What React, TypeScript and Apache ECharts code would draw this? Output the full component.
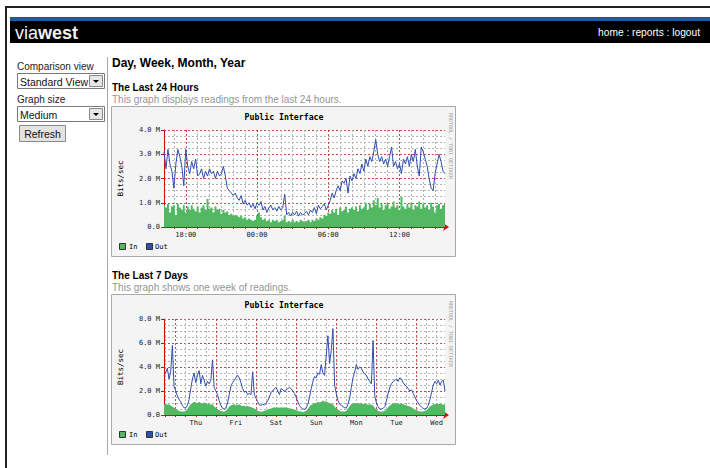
import React, { useEffect, useRef } from 'react';
import * as echarts from 'echarts';

// ---------- data ----------
// Last 24 hours, 10-minute samples from 16:10 to 15:50 (Mbit/s)
const dayOut = [
  3.1, 2.4, 3.2, 2.6, 2.3, 1.6, 2.6, 3.2, 2.9, 2.5, 1.7, 3.2,
  2.5, 2.2, 2.7, 2.4, 2.8, 2.1, 2.2, 2.4, 2.0, 2.3, 2.1, 2.4,
  2.2, 2.3, 2.0, 2.3, 2.1, 2.2, 2.5, 2.1, 1.6, 1.5, 1.4, 1.3,
  1.4, 1.2, 1.1, 1.3, 0.95, 1.1, 0.9, 1.0, 0.8, 0.95, 0.75, 1.0,
  0.9, 1.05, 0.7, 0.85, 0.6, 0.8, 0.9, 0.7, 0.8, 0.65, 0.85, 0.7,
  0.8, 1.35, 0.5, 0.6, 0.45, 0.6, 0.5, 0.65, 0.45, 0.6, 0.5, 0.55,
  0.65, 0.5, 0.7, 0.6, 0.8, 0.55, 0.9, 0.75, 0.85, 0.95, 0.7, 0.9,
  1.1, 1.4, 1.2, 1.5, 1.7, 1.5, 1.9, 1.8, 2.0, 1.4, 2.1, 1.9,
  2.2, 2.0, 2.4, 2.2, 2.6, 2.3, 2.8, 2.5, 2.9, 2.7, 3.1, 3.6,
  3.0, 2.7, 2.9, 2.6, 2.8, 2.5, 2.9, 3.3, 2.5, 2.7, 2.4, 2.6,
  2.2, 2.8, 2.6, 2.9, 2.5, 3.0, 2.7, 3.2, 2.5, 2.1, 3.3, 3.1,
  2.8, 2.5, 2.0, 1.6, 1.5, 2.2, 2.6, 3.0, 2.7, 2.3, 2.2,
];
const dayIn = [
  0.9, 0.8, 0.95, 0.6, 0.85, 0.9, 0.5, 0.95, 0.8, 0.7, 0.9, 0.6,
  0.85, 0.7, 0.9, 0.75, 0.65, 0.85, 0.6, 0.8, 0.9, 0.7, 1.15, 0.75,
  0.8, 0.6, 0.85, 0.7, 0.75, 0.55, 0.7, 0.6, 0.65, 0.5, 0.55, 0.45,
  0.5, 0.45, 0.4, 0.45, 0.35, 0.4, 0.3, 0.35, 0.3, 0.25, 0.3, 0.45,
  0.6, 0.4, 0.3, 0.35, 0.25, 0.3, 0.2, 0.3, 0.25, 0.3, 0.2, 0.25,
  0.3, 0.45, 0.2, 0.25, 0.2, 0.3, 0.2, 0.25, 0.2, 0.3, 0.25, 0.2,
  0.25, 0.3, 0.2, 0.3, 0.25, 0.35, 0.3, 0.4, 0.35, 0.5, 0.45, 0.6,
  0.55, 0.7, 0.6, 0.75, 0.5, 0.8, 0.65, 0.7, 0.85, 0.6, 0.75, 0.8,
  0.7, 0.85, 0.65, 0.9, 0.75, 0.8, 1.0, 0.7, 0.95, 0.8, 1.1, 0.9,
  1.2, 0.8, 0.95, 0.7, 0.9, 1.0, 0.75, 0.85, 1.05, 0.8, 0.9, 0.7,
  1.25, 0.85, 0.75, 0.95, 0.8, 1.0, 0.7, 0.9, 0.85, 1.05, 0.75, 0.95,
  0.8, 0.9, 0.7, 1.0, 0.85, 0.6, 0.9, 0.95, 0.75, 0.9, 0.95,
];

// Last 7 days, hourly samples from Wed 17:00 to Wed 17:00 (Mbit/s)
const weekOut = [
  3.3, 3.5, 3.9, 3.0, 3.6, 5.8, 2.4, 2.0, 1.6, 1.3,
  1.1, 0.8, 0.6, 0.6, 0.8, 1.3, 2.2, 3.0, 3.5, 2.7,
  3.3, 3.7, 2.6, 3.3, 2.9, 2.4, 2.8, 2.6, 2.9, 4.6,
  2.3, 2.0, 1.7, 1.2, 0.8, 0.55, 0.5, 0.6, 1.0, 1.7,
  2.4, 2.7, 2.9, 3.1, 3.3, 3.1, 2.7, 2.2, 1.9, 2.0,
  1.7, 1.8, 1.7, 3.6, 1.7, 1.4, 1.1, 0.85, 0.8, 0.9,
  0.85, 0.95, 1.2, 1.5, 1.9, 2.0, 2.2, 2.3, 2.0, 1.7,
  2.2, 2.1, 2.0, 2.1, 2.2, 2.3, 2.2, 2.0, 1.8, 1.5,
  1.1, 0.8, 0.6, 0.5, 0.5, 0.6, 0.9, 1.5, 2.2, 2.8,
  3.2, 3.1, 3.5, 3.4, 4.2, 3.5, 3.3, 5.0, 6.6, 4.3,
  5.4, 7.2, 2.5, 1.8, 1.2, 0.9, 0.8, 0.7, 0.6, 0.6,
  0.9, 1.4, 2.3, 3.1, 3.6, 4.2, 3.8, 4.0, 3.9, 3.6,
  3.4, 3.3, 3.0, 2.8, 2.6, 6.2, 1.6, 1.0, 0.7, 0.5,
  0.5, 0.55, 0.7, 1.2, 1.8, 2.3, 2.6, 2.8, 2.9, 3.0,
  2.8, 3.1, 3.0, 2.7, 2.5, 2.4, 2.2, 2.0, 2.1, 1.8,
  1.5, 1.2, 1.0, 0.8, 0.65, 0.55, 0.5, 0.55, 0.8, 1.3,
  1.9, 2.5, 2.8, 2.6, 2.9, 2.5, 2.8, 2.9, 2.0,
];
const weekIn = [
  0.9, 0.95, 0.85, 0.9, 0.8, 0.7, 0.6,
  0.5, 0.4, 0.35, 0.3, 0.3, 0.3, 0.35, 0.5,
  0.7, 0.9, 1.0, 1.1, 1.05, 1.0, 1.1, 1.0, 0.95, 1.05, 1.0, 0.9, 1.0, 0.85, 0.9, 0.7,
  0.6, 0.5, 0.4, 0.35, 0.3, 0.3, 0.35, 0.5,
  0.7, 0.8, 0.85, 0.9, 0.8, 0.85, 0.9, 0.8, 0.75, 0.8, 0.7, 0.75, 0.7, 0.65, 0.6, 0.55,
  0.45, 0.35, 0.3, 0.3, 0.3, 0.35, 0.4, 0.45,
  0.5, 0.55, 0.6, 0.65, 0.6, 0.65, 0.6, 0.65, 0.6, 0.65, 0.6, 0.6, 0.55, 0.55, 0.5, 0.45,
  0.4, 0.35, 0.3, 0.3, 0.25, 0.3, 0.35, 0.5,
  0.7, 0.85, 0.9, 1.0, 1.0, 1.1, 1.05, 1.1, 1.2, 1.1, 1.15, 1.05, 1.0, 0.95, 0.9, 0.7,
  0.55, 0.45, 0.35, 0.3, 0.3, 0.3, 0.35, 0.55,
  0.75, 0.9, 0.95, 1.0, 0.95, 1.0, 0.95, 1.0, 0.9, 0.95, 0.9, 0.85, 0.9, 0.85, 0.8, 0.6,
  0.45, 0.35, 0.3, 0.3, 0.3, 0.35, 0.45, 0.65,
  0.8, 0.9, 0.95, 1.0, 0.95, 1.0, 0.9, 0.95, 0.9, 0.85, 0.8, 0.75, 0.7, 0.65, 0.55, 0.45,
  0.4, 0.35, 0.3, 0.3, 0.3, 0.35, 0.4, 0.55,
  0.7, 0.8, 0.9, 0.9, 0.95, 0.9, 0.95, 0.9, 0.85, 0.9,
];

const dayTickLabels = ['18:00', '00:00', '06:00', '12:00'];
const weekTickLabels = ['Thu', 'Fri', 'Sat', 'Sun', 'Mon', 'Tue', 'Wed'];
const dayYLabels = ['0.0', '1.0 M', '2.0 M', '3.0 M', '4.0 M'];
const weekYLabels = ['0.0', '2.0 M', '4.0 M', '6.0 M', '8.0 M'];
const weekDayNames = ['Wed', 'Thu', 'Fri', 'Sat', 'Sun', 'Mon', 'Tue', 'Wed'];

const pad = (n: number) => (n < 10 ? '0' + n : '' + n);

// category (time) labels
const dayCats: string[] = [];
for (let i = 0; i < dayOut.length; i++) {
  const t = (16 * 60 + 10 + i * 10) % 1440;
  dayCats.push(pad(Math.floor(t / 60)) + ':' + pad(t % 60));
}
const weekCats: string[] = [];
for (let i = 0; i < weekOut.length; i++) {
  const h = 17 + i;
  weekCats.push(weekDayNames[Math.floor(h / 24)] + ' ' + pad(h % 24) + ':00');
}

// ---------- styles ----------
const SANS = '"Liberation Sans", Arial, sans-serif';
const MONO = '"DejaVu Sans Mono", monospace';
const GREEN = '#52b862';
const BLUE = '#2f4fae';
const AXIS_RED = '#cc1111';
const MAJOR = 'rgba(195,30,30,0.8)';
const MINOR = '#b4b4b4';

const dayHour = (v: string) => parseInt(v.slice(0, 2), 10);
const dayIsHour = (v: string) => v.endsWith(':00');
const weekHour = (v: string) => parseInt(v.slice(4, 6), 10);

function txt(x: number, y: number, text: string, o: any = {}) {
  return {
    type: 'text',
    x,
    y,
    rotation: o.rotation || 0,
    z: 10,
    style: {
      text,
      fill: o.fill || '#000',
      fontSize: o.fontSize || 10,
      fontFamily: o.fontFamily || SANS,
      fontWeight: o.fontWeight || 'normal',
      textAlign: o.align || 'left',
      textVerticalAlign: 'middle',
      rich: o.rich,
    },
  };
}
function rect(x: number, y: number, w: number, h: number, fill: string, stroke?: string, z = -1) {
  return {
    type: 'rect',
    z,
    shape: { x, y, width: w, height: h },
    style: { fill, stroke: stroke || null, lineWidth: stroke ? 1 : 0 },
  };
}

function panel(top: number, plotTop: number, plotH: number, heading: string, sub: string) {
  const els: any[] = [];
  els.push(txt(112, top - 19, heading, { fontWeight: 'bold', fontSize: 10 }));
  els.push(txt(112, top - 6.5, sub, { fill: '#959595', fontSize: 10 }));
  els.push(rect(111.5, top + 0.5, 344, 150, '#f4f4f4', '#a9a9a9', -3));
  els.push(rect(164, plotTop, 281, plotH, '#ffffff', undefined, -2));
  els.push(txt(284, top + 11, 'Public Interface', { fontFamily: MONO, fontWeight: 'bold', fontSize: 8.2, align: 'center' }));
  els.push(txt(120, plotTop + plotH / 2, 'Bits/sec', { fontFamily: MONO, fontSize: 7.5, align: 'center', rotation: Math.PI / 2 }));
  els.push(txt(451, top + 40, 'RRDTOOL / TOBI OETIKER', { fontFamily: MONO, fontSize: 5, align: 'center', fill: '#a0a0a0', rotation: -Math.PI / 2 }));
  const ly = top + 140.5;
  els.push(rect(119.5, ly - 3, 6, 6, GREEN, '#333', 5));
  els.push(txt(129, ly, 'In', { fontFamily: MONO, fontSize: 7 }));
  els.push(rect(146.5, ly - 3, 6, 6, BLUE, '#333', 5));
  els.push(txt(155, ly, 'Out', { fontFamily: MONO, fontSize: 7 }));
  return els;
}

function selectBox(y: number, label: string) {
  return [
    rect(17.5, y + 0.5, 87, 15, '#ffffff', '#7a7a7a', 1),
    rect(89.5, y + 2.5, 13, 11, '#e6e6e6', '#8a8a8a', 2),
    {
      type: 'polygon',
      z: 3,
      shape: { points: [[93, y + 7], [99, y + 7], [96, y + 10]] },
      style: { fill: '#000' },
    },
    txt(20, y + 8.5, label, { fontSize: 10.5, fill: '#111' }),
  ];
}

function dayIsHourFn(_i: number, v: string) {
  return dayIsHour(v);
}

function buildOption(): any {
  const graphic: any[] = [
    rect(5, 6, 705, 2, '#222', undefined, 1),
    rect(5, 6, 2, 462, '#222', undefined, 1),
    rect(10, 17, 700, 4, '#1e5aa0', undefined, 1),
    rect(10, 21, 700, 22, '#000000', undefined, 1),
    txt(15, 32.5, '{a|via}{b|west}', {
      fill: '#fff',
      fontSize: 18,
      rich: {
        a: { fontSize: 18, fontFamily: SANS, fill: '#f2f2f2' },
        b: { fontSize: 18, fontFamily: SANS, fontWeight: 'bold', fill: '#f2f2f2' },
      },
    }),
    txt(700, 32.5, 'home : reports : logout', { fill: '#fff', fontSize: 10.2, align: 'right' }),
    txt(17, 66, 'Comparison view', { fontSize: 10, fill: '#222' }),
    ...selectBox(73, 'Standard View'),
    txt(17, 99, 'Graph size', { fontSize: 10, fill: '#222' }),
    ...selectBox(106, 'Medium'),
    rect(19.5, 125.5, 46, 16, '#e3e3e3', '#8a8a8a', 1),
    txt(42.5, 133.5, 'Refresh', { fontSize: 10.5, align: 'center', fill: '#111' }),
    rect(107, 57, 1, 398, '#a8a8a8', undefined, 1),
    txt(112, 63, 'Day, Week, Month, Year', { fontWeight: 'bold', fontSize: 12 }),
    ...panel(106, 130, 97, 'The Last 24 Hours', 'This graph displays readings from the last 24 hours.'),
    ...panel(294, 319, 96, 'The Last 7 Days', 'This graph shows one week of readings.'),
  ];

  const xBase = (gridIndex: number, data: string[]) => ({
    type: 'category',
    gridIndex,
    data,
    boundaryGap: false,
  });
  const axisLineRed = {
    show: true,
    onZero: false,
    symbol: ['none', 'arrow'],
    symbolSize: [6, 6],
    symbolOffset: [0, 4],
    lineStyle: { color: AXIS_RED, width: 1 },
  };
  const labelStyle = { fontFamily: MONO, fontSize: 7, color: '#222' };

  const dayMinor = (_i: number, v: string) => dayIsHour(v) && dayHour(v) % 6 !== 0;
  const dayMajor = (_i: number, v: string) => dayIsHour(v) && dayHour(v) % 6 === 0;
  const weekMinor = (_i: number, v: string) => weekHour(v) % 6 === 0 && weekHour(v) !== 0;
  const weekMajor = (_i: number, v: string) => weekHour(v) === 0;

  const yAxis = (gridIndex: number, max: number, interval: number, labels: string[]) => ({
    type: 'value',
    gridIndex,
    min: 0,
    max,
    interval,
    axisLine: { show: true, lineStyle: { color: AXIS_RED, width: 1 } },
    axisTick: { show: true, length: 3, lineStyle: { color: AXIS_RED } },
    axisLabel: { ...labelStyle, margin: 4, formatter: (v: number) => labels[Math.round(v / interval)] },
    splitLine: { show: true, lineStyle: { color: MAJOR, type: [2, 2], width: 1 } },
    minorTick: { show: false, splitNumber: 4 },
    minorSplitLine: { show: true, lineStyle: { color: MINOR, type: [2, 2], width: 1 } },
  });

  return {
    animation: false,
    backgroundColor: '#ffffff',
    graphic,
    grid: [
      { left: 164, top: 130, width: 281, height: 97, show: false },
      { left: 164, top: 319, width: 281, height: 96, show: false },
    ],
    xAxis: [
      {
        ...xBase(0, dayCats),
        axisLine: axisLineRed,
        axisTick: { show: true, length: 2, interval: dayIsHourFn, lineStyle: { color: AXIS_RED } },
        axisLabel: {
          ...labelStyle,
          margin: 4,
          interval: (_i: number, v: string) => dayTickLabels.includes(v),
        },
        splitLine: { show: true, interval: dayMinor, lineStyle: { color: MINOR, type: [2, 2], width: 1 } },
      },
      {
        ...xBase(0, dayCats),
        axisLine: { show: false },
        axisTick: { show: false },
        axisLabel: { show: false },
        splitLine: { show: true, interval: dayMajor, lineStyle: { color: MAJOR, type: [2, 2], width: 1 } },
      },
      {
        ...xBase(1, weekCats),
        axisLine: axisLineRed,
        axisTick: { show: true, length: 2, interval: (_i: number, v: string) => weekHour(v) % 6 === 0, lineStyle: { color: AXIS_RED } },
        axisLabel: {
          ...labelStyle,
          margin: 4,
          interval: (_i: number, v: string) => v.endsWith(' 12:00') && weekTickLabels.includes(v.slice(0, 3)),
          formatter: (v: string) => v.slice(0, 3),
        },
        splitLine: { show: true, interval: weekMinor, lineStyle: { color: MINOR, type: [2, 2], width: 1 } },
      },
      {
        ...xBase(1, weekCats),
        axisLine: { show: false },
        axisTick: { show: false },
        axisLabel: { show: false },
        splitLine: { show: true, interval: weekMajor, lineStyle: { color: MAJOR, type: [2, 2], width: 1 } },
      },
    ],
    yAxis: [yAxis(0, 4, 1, dayYLabels), yAxis(1, 8, 2, weekYLabels)],
    series: [
      {
        name: 'In',
        type: 'line',
        xAxisIndex: 0,
        yAxisIndex: 0,
        data: dayIn,
        symbol: 'none',
        step: 'middle',
        lineStyle: { width: 0 },
        itemStyle: { color: GREEN },
        areaStyle: { color: GREEN, opacity: 1 },
      },
      {
        name: 'Out',
        type: 'line',
        xAxisIndex: 0,
        yAxisIndex: 0,
        data: dayOut,
        symbol: 'none',
        lineStyle: { color: BLUE, width: 1 },
        itemStyle: { color: BLUE },
      },
      {
        name: 'In',
        type: 'line',
        xAxisIndex: 2,
        yAxisIndex: 1,
        data: weekIn,
        symbol: 'none',
        lineStyle: { width: 0 },
        itemStyle: { color: GREEN },
        areaStyle: { color: GREEN, opacity: 1 },
      },
      {
        name: 'Out',
        type: 'line',
        xAxisIndex: 2,
        yAxisIndex: 1,
        data: weekOut,
        symbol: 'none',
        lineStyle: { color: BLUE, width: 1 },
        itemStyle: { color: BLUE },
      },
    ],
  };
}

export default function App() {
  const ref = useRef<HTMLDivElement>(null);
  useEffect(() => {
    if (!ref.current) return;
    const chart = echarts.init(ref.current, undefined, { renderer: 'svg' });
    chart.setOption(buildOption());
    return () => chart.dispose();
  }, []);
  return (
    <div
      ref={ref}
      style={{ position: 'fixed', left: 0, top: 0, width: 710, height: 468, background: '#fff' }}
    />
  );
}
